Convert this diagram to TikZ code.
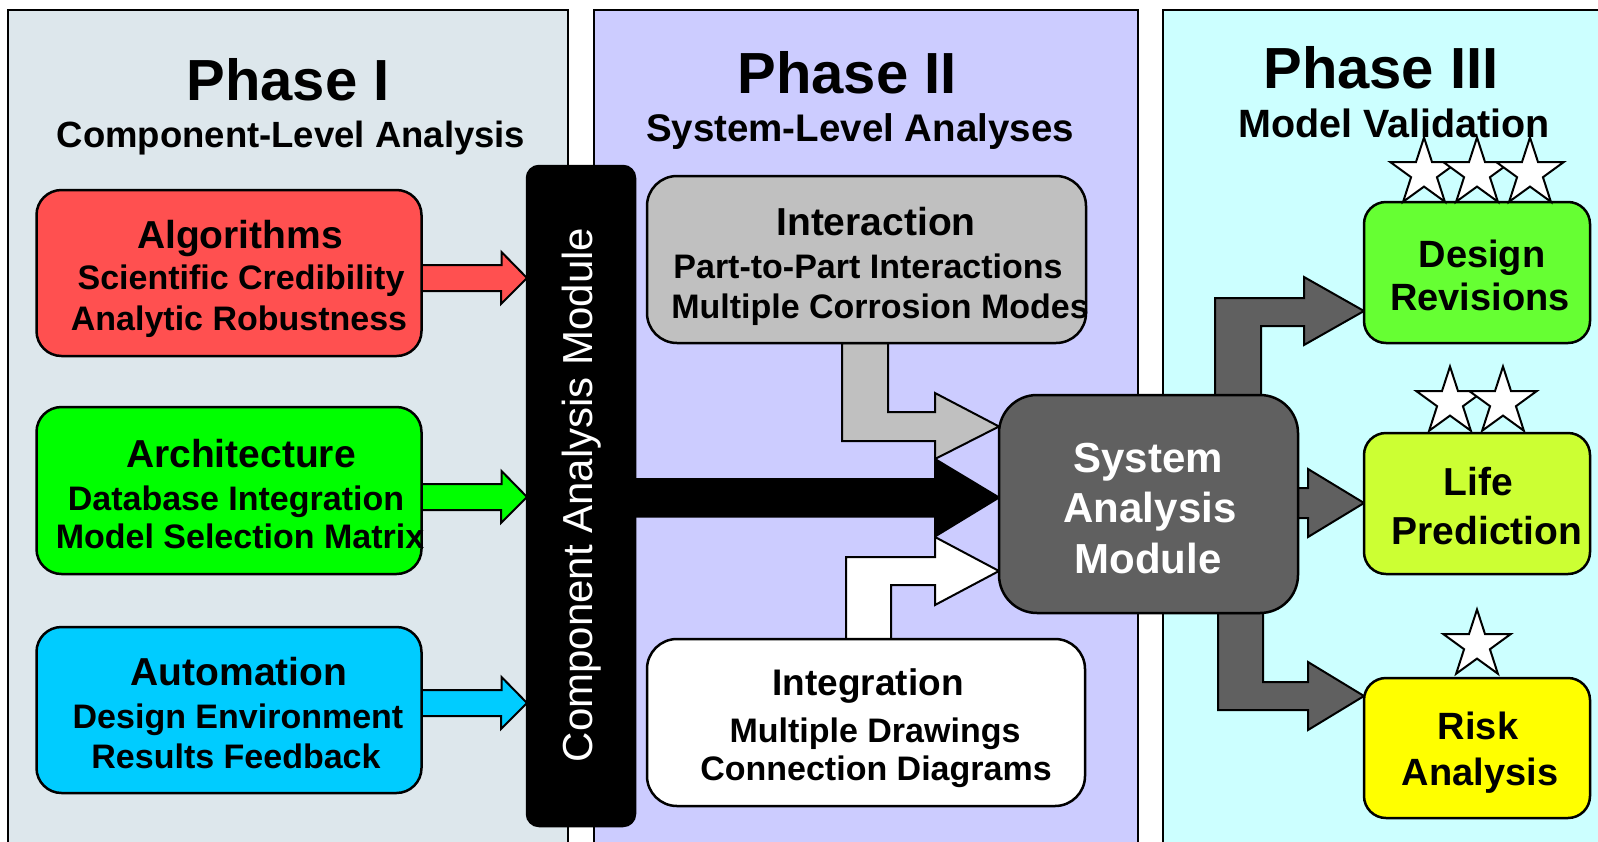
\documentclass[tikz,border=0pt]{standalone}
\usepackage{fontspec}
\setmainfont{Liberation Sans}
\usetikzlibrary{calc}
\definecolor{panelA}{HTML}{DDE7EC}
\definecolor{panelB}{HTML}{CCCCFF}
\definecolor{panelC}{HTML}{CCFFFF}
\definecolor{algred}{HTML}{FF5050}
\definecolor{archgreen}{HTML}{00FF00}
\definecolor{autoblue}{HTML}{00CCFF}
\definecolor{intgray}{HTML}{C0C0C0}
\definecolor{samgray}{HTML}{606060}
\definecolor{desgreen}{HTML}{66FF33}
\definecolor{lifegreen}{HTML}{CCFF33}
\definecolor{riskyellow}{HTML}{FFFF00}
\newcommand\fsz[1]{\fontsize{#1}{#1}\selectfont}
\pgfdeclarelayer{back}
\pgfdeclarelayer{mid}
\pgfsetlayers{back,mid,main}
\newcommand\drawstar[2]{\draw[starsty] (#1,#2) +(-90:35.5) \foreach \k in {1,...,9}{ -- +({-90+36*\k}:{ifthenelse(isodd(\k),13.6,35.5)}) } -- cycle;}
\begin{document}
\begin{tikzpicture}[x=1pt,y=-1pt,
  panel/.style={draw=black,line width=2.5pt},
  box/.style={draw=black,line width=2.5pt,rounded corners=#1,inner sep=0pt,outer sep=0pt},
  box/.default=25pt,
  txt/.style={inner sep=0pt,anchor=base,font=\bfseries},
  wtxt/.style={txt,text=white},
  blk/.style={draw=black,line width=2pt,line join=miter},
  starsty/.style={draw=black,line width=2pt,fill=white,line join=miter}
]
\useasboundingbox (0,0) rectangle (1598,841);

\begin{pgfonlayer}{back}
\fill[white] (0,0) rectangle (1598,841);
\draw[panel,fill=panelA] (8,10) rectangle (568,860);
\draw[panel,fill=panelB] (594,10) rectangle (1138,860);
\draw[panel,fill=panelC] (1163,10) rectangle (1620,860);
\end{pgfonlayer}

% titles
\node[txt] (p1) at (288,100) {\fsz{58}Phase I};
\node[txt] (p1s) at (291,147) {\fsz{36.5}Component-Level Analysis};
\node[txt] (p2) at (847,93) {\fsz{58}Phase II};
\node[txt] (p2s) at (860,141) {\fsz{38.5}System-Level Analyses};
\node[txt] (p3) at (1381,88) {\fsz{58}Phase III};
\node[txt] (p3s) at (1394,137) {\fsz{39.5}Model Validation};

% boxes
\node[box,fill=algred,minimum width=385pt,minimum height=166pt] (alg) at (229,273) {};
\node[box,fill=archgreen,minimum width=385pt,minimum height=167pt] (arch) at (229,490.5) {};
\node[box,fill=autoblue,minimum width=385pt,minimum height=166pt] (auto) at (229,710) {};
\node[box=12pt,fill=black,minimum width=108pt,minimum height=660pt] (cam) at (581,496) {};
\node[box=30pt,fill=intgray,minimum width=439pt,minimum height=167pt] (inter) at (866.5,259.5) {};
\node[box=30pt,fill=white,minimum width=438pt,minimum height=167pt] (integ) at (866,722.5) {};
\node[box=38pt,fill=samgray,minimum width=299pt,minimum height=218pt] (sam) at (1148.5,504) {};
\node[box=22pt,fill=desgreen,minimum width=226pt,minimum height=141pt] (des) at (1477,272.5) {};
\node[box=22pt,fill=lifegreen,minimum width=226pt,minimum height=141pt] (life) at (1477,503.5) {};
\node[box=22pt,fill=riskyellow,minimum width=226pt,minimum height=140pt] (risk) at (1477,748) {};

% connectors (behind boxes)
\begin{pgfonlayer}{mid}
\coordinate (algtip) at (cam.west |- 0,278);
\draw[blk,fill=algred] (alg.east |- 0,278) ++(-2,-13) -- ++(82,0) -- ++(0,-13) -- (algtip) -- ++(-26,26) -- ++(0,-13) -- ++(-82,0) -- cycle;
\coordinate (archtip) at (cam.west |- 0,497);
\draw[blk,fill=archgreen] (arch.east |- 0,497) ++(-2,-13) -- ++(82,0) -- ++(0,-13) -- (archtip) -- ++(-26,26) -- ++(0,-13) -- ++(-82,0) -- cycle;
\coordinate (autotip) at (cam.west |- 0,703);
\draw[blk,fill=autoblue] (auto.east |- 0,703) ++(-2,-13) -- ++(82,0) -- ++(0,-13) -- (autotip) -- ++(-26,26) -- ++(0,-13) -- ++(-82,0) -- cycle;

\coordinate (camtip) at (sam.west |- 0,497.5);
\draw[blk,fill=black] (cam.east |- 0,497.5) ++(-2,-18.5) -- ++(302,0) -- ++(0,-20) -- (camtip) -- ++(-64,39) -- ++(0,-20) -- ++(-302,0) -- cycle;

\coordinate (intertip) at (sam.west |- 0,426.5);
\draw[blk,fill=intgray] (inter.south -| 842,0) -- ++(0,98) -- ++(93,0) -- ++(0,18) -- (intertip) -- ++(-64,-33.5) -- ++(0,19) -- ++(-47,0) -- ++(0,-69) -- cycle;

\coordinate (integtip) at (sam.west |- 0,571);
\draw[blk,fill=white] (integ.north -| 846,0) -- ++(0,-82) -- ++(89,0) -- ++(0,-20) -- (integtip) -- ++(-64,34) -- ++(0,-20) -- ++(-44,0) -- ++(0,54) -- cycle;

\coordinate (destip) at (des.west |- 0,311);
\draw[blk,fill=samgray] (sam.north -| 1215,0) -- ++(0,-97) -- ++(89,0) -- ++(0,-21) -- (destip) -- ++(-60,34) -- ++(0,-19) -- ++(-43,0) -- ++(0,69) -- cycle;

\coordinate (lifetip) at (life.west |- 0,503);
\draw[blk,fill=samgray] (sam.east |- 0,503) ++(-3,-15) -- ++(13,0) -- ++(0,-19) -- (lifetip) -- ++(-56,34) -- ++(0,-19) -- ++(-13,0) -- cycle;

\coordinate (risktip) at (risk.west |- 0,696);
\draw[blk,fill=samgray] (sam.south -| 1218,0) -- ++(0,97) -- ++(90,0) -- ++(0,20) -- (risktip) -- ++(-56,-34) -- ++(0,20) -- ++(-45,0) -- ++(0,-69) -- cycle;
\end{pgfonlayer}

% box texts
\node[txt] (algT) at (240,248) {\fsz{39}Algorithms};
\node[txt] (algA) at (241,289) {\fsz{34}Scientific Credibility};
\node[txt] (algB) at (239,330) {\fsz{34}Analytic Robustness};
\node[txt] (archT) at (241,467) {\fsz{39}Architecture};
\node[txt] (archA) at (236,510) {\fsz{34}Database Integration};
\node[txt] (archB) at (240,548) {\fsz{34}Model Selection Matrix};
\node[txt] (autoT) at (239,685) {\fsz{39}Automation};
\node[txt] (autoA) at (238,728) {\fsz{34}Design Environment};
\node[txt] (autoB) at (236,768) {\fsz{34}Results Feedback};

\node[inner sep=0pt,anchor=base,rotate=90,text=white] (camT) at (592,495) {\fsz{42}Component Analysis Module};

\node[txt] (interT) at (876,235) {\fsz{39}Interaction};
\node[txt] (interA) at (868,278) {\fsz{34}Part-to-Part Interactions};
\node[txt] (interB) at (880,318) {\fsz{34}Multiple Corrosion Modes};
\node[txt] (integT) at (868,695) {\fsz{37}Integration};
\node[txt] (integA) at (875,742) {\fsz{34}Multiple Drawings};
\node[txt] (integB) at (876,780) {\fsz{34}Connection Diagrams};

\node[wtxt] (samA) at (1148,472) {\fsz{42}System};
\node[wtxt] (samB) at (1150,522) {\fsz{42}Analysis};
\node[wtxt] (samC) at (1148,573) {\fsz{42}Module};

\node[txt] (desA) at (1482,267) {\fsz{38}Design};
\node[txt] (desB) at (1480,310) {\fsz{38}Revisions};
\node[txt] (lifeA) at (1478,495) {\fsz{39}Life};
\node[txt] (lifeB) at (1487,544) {\fsz{39}Prediction};
\node[txt] (riskA) at (1478,739) {\fsz{38}Risk};
\node[txt] (riskB) at (1480,785) {\fsz{38}Analysis};

% stars
\drawstar{1424}{173}
\drawstar{1477}{173}
\drawstar{1530}{173}
\drawstar{1450}{402}
\drawstar{1503}{402}
\drawstar{1477}{645}
\end{tikzpicture}
\end{document}
